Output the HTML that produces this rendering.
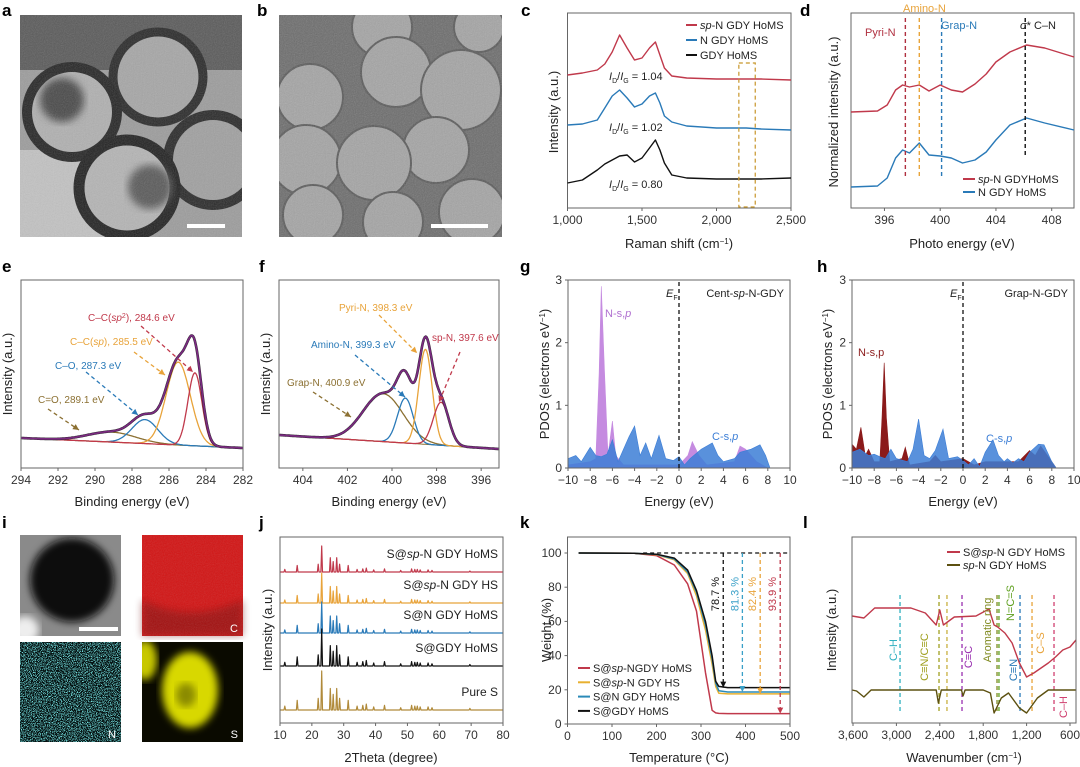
<!DOCTYPE html>
<html><head><meta charset="utf-8"><style>
html,body{margin:0;padding:0;background:#fff;}
svg{display:block;font-family:"Liberation Sans",sans-serif;}
</style></head><body>
<svg id="fig" width="1080" height="767" viewBox="0 0 1080 767" xmlns="http://www.w3.org/2000/svg">
<defs>
<filter id="noise" x="0" y="0" width="100%" height="100%"><feTurbulence type="fractalNoise" baseFrequency="0.9" numOctaves="2" seed="3"/><feColorMatrix type="saturate" values="0"/><feComponentTransfer><feFuncA type="linear" slope="0.5"/></feComponentTransfer></filter>
<filter id="dots" x="0" y="0" width="100%" height="100%"><feTurbulence type="fractalNoise" baseFrequency="1.2" numOctaves="1" seed="7"/><feColorMatrix type="matrix" values="0 0 0 0 0.2  0 0 0 0 0.85  0 0 0 0 0.85  0 0 0 9 -4.6"/></filter>
<filter id="blur4"><feGaussianBlur stdDeviation="4"/></filter>
<clipPath id="clipA"><rect x="20" y="15" width="222" height="222"/></clipPath>
<clipPath id="clipB"><rect x="279" y="15" width="223" height="222"/></clipPath>
<clipPath id="clipS"><rect x="142" y="642" width="101" height="100"/></clipPath>
<clipPath id="clipI1"><rect x="20" y="535" width="101" height="101"/></clipPath>
</defs>

<g clip-path="url(#clipA)">
<rect x="20" y="15" width="222" height="222" fill="#9c9c9c"/>
<rect x="20" y="150" width="90" height="90" fill="#c2c2c2"/>
<rect x="20" y="15" width="222" height="55" fill="#5a5a5a"/>
<circle cx="158" cy="77" r="45" fill="#a6a6a6" stroke="#2a2a2a" stroke-width="9"/>
<circle cx="72" cy="112" r="45" fill="#b0b0b0" stroke="#262626" stroke-width="10"/>
<circle cx="213" cy="160" r="45" fill="#a0a0a0" stroke="#2a2a2a" stroke-width="10"/>
<circle cx="127" cy="188" r="48" fill="#b4b4b4" stroke="#222" stroke-width="11"/>
<circle cx="150" cy="187" r="22" fill="#5a5a5a" filter="url(#blur4)"/>
<circle cx="62" cy="100" r="22" fill="#4a4a4a" filter="url(#blur4)"/>
<rect x="20" y="15" width="222" height="222" filter="url(#noise)" opacity="0.5"/>
</g>
<rect x="187" y="224" width="38" height="4" fill="#fff"/>

<g clip-path="url(#clipB)">
<rect x="279" y="15" width="223" height="222" fill="#6c6c6c"/>
<g fill="#a4a4a4" stroke="#5a5a5a" stroke-width="2">
<circle cx="382" cy="27" r="30"/><circle cx="479" cy="27" r="25"/><circle cx="310" cy="97" r="33"/>
<circle cx="396" cy="72" r="35"/><circle cx="461" cy="90" r="40"/><circle cx="306" cy="160" r="35"/>
<circle cx="436" cy="150" r="33"/><circle cx="374" cy="163" r="37"/><circle cx="313" cy="215" r="30"/>
<circle cx="393" cy="222" r="30"/><circle cx="472" cy="212" r="33"/>
</g>
<rect x="279" y="15" width="223" height="222" filter="url(#noise)" opacity="0.6"/>
</g>
<rect x="431" y="224" width="57" height="4" fill="#fff"/>

<g clip-path="url(#clipI1)">
<rect x="20" y="535" width="101" height="101" fill="#8a8a8a"/>
<circle cx="72" cy="580" r="42" fill="#0c0c0c" filter="url(#blur4)"/>
<circle cx="25" cy="630" r="14" fill="#eee" filter="url(#blur4)"/>
</g>
<rect x="79" y="627" width="39" height="4" fill="#fff"/>
<g>
<rect x="142" y="535" width="101" height="101" fill="#d21414"/>
<path d="M142 600 Q190 625 243 600 L243 636 L142 636Z" fill="#6a0808" opacity="0.45" filter="url(#blur4)"/>
<rect x="142" y="535" width="101" height="101" filter="url(#noise)" opacity="0.35"/>
<text x="238" y="632" fill="#fff" font-size="11" text-anchor="end">C</text>
</g>
<g>
<rect x="20" y="642" width="101" height="100" fill="#041010"/>
<rect x="20" y="642" width="101" height="100" filter="url(#dots)"/>
<text x="116" y="738" fill="#fff" font-size="11" text-anchor="end">N</text>
</g>
<g clip-path="url(#clipS)">
<rect x="142" y="642" width="101" height="100" fill="#0a0a00"/>
<ellipse cx="190" cy="690" rx="28" ry="38" fill="#d8d800" filter="url(#blur4)"/>
<ellipse cx="145" cy="660" rx="12" ry="20" fill="#c8c800" filter="url(#blur4)"/>
<ellipse cx="186" cy="695" rx="10" ry="12" fill="#8a8a00" filter="url(#blur4)"/>
<text x="238" y="738" fill="#fff" font-size="11" text-anchor="end">S</text>
</g>
</svg>
<script>
const ramanShift = [1000,1100,1200,1250,1300,1350,1400,1450,1500,1550,1590,1620,1650,1700,1800,2000,2200,2300,2500];
const ramanSpN = [133,135,138,144,156,173,160,148,150,160,166,153,140,132,130,129,129,129,128];
const ramanN = [83,84,88,100,112,118,110,101,104,112,115,105,92,86,82,80,80,79,78];
const ramanGDY = [25,28,38,44,48,52,53,46,50,60,68,58,45,33,30,29,29,29,30];
const ramanRatios = ["1.04","1.02","0.80"];
const nexEnergy = [393.6,395.5,396.2,396.8,397.3,397.8,398.5,399.2,400,400.8,401.6,402.5,403.3,404,405,406.2,407.5,409.6];
const nexSpN = [96,97,103,118,123,121,123,117,123,118,116,124,134,146,156,163,160,151];
const nexN = [21,22,30,50,58,55,65,53,52,50,45,48,56,68,83,90,85,78];
const nexMarkers = [397.5,398.5,400.1,406.1];
const c1sCenters = [289.1,287.3,285.5,284.6];
const c1sHeights = [10,24,83,73];
const c1sWidths = [1.3,0.7,0.65,0.38];
const c1sBase = [30,20];
const n1sCenters = [400.4,399.4,398.5,397.8];
const n1sHeights = [48,45,95,43];
const n1sWidths = [0.9,0.35,0.3,0.35];
const n1sBase = [33,19];
const gNE = [-10,-8,-7.5,-7.2,-7,-6.7,-6.4,-6,-5.7,-5,0,0.8,1.2,1.8,2.5,5,5.5,6,6.5,7,8,10];
const gNV = [0.05,0.1,0.15,1.5,2.9,1.5,0.2,0.75,0.2,0.05,0.05,0.2,0.42,0.2,0.05,0.1,0.35,0.3,0.2,0.1,0,0];
const gCE = [-10,-9.3,-8.8,-8,-7.5,-7,-6.5,-6,-5.5,-5,-4.5,-4,-3.5,-3,-2.5,-1.8,-1.2,-0.5,0,0.5,1,2,3,3.5,4,5,5.5,6.5,7.3,7.8,8.2,10];
const gCV = [0.15,0.2,0.1,0.33,0.2,0.18,0.22,0.45,0.1,0.3,0.5,0.67,0.2,0.4,0.15,0.52,0.15,0.12,0.18,0.05,0.15,0.3,0.4,0.2,0.1,0.15,0.25,0.3,0.37,0.2,0,0];
const hNE = [-10,-9.6,-9.2,-8.8,-8.5,-8,-7.5,-7.3,-7.1,-6.9,-6.6,-5.5,-5.2,-4.8,-3,-2.5,-2,0,1,2,5,6,6.5,7,8,8.4,10];
const hNV = [0.38,0.3,0.65,0.2,0.3,0.1,0.1,0.8,1.68,0.8,0.1,0.15,0.33,0.05,0.1,0.2,0.1,0.15,0.05,0.1,0.1,0.28,0.2,0.35,0.1,0,0];
const hCE = [-10,-9.3,-8.5,-8,-7.5,-7,-6.5,-6,-5,-4.5,-4,-3.5,-3,-2.5,-1.8,-1.3,-0.5,0,0.5,1,1.5,2,2.7,3.2,3.7,4,4.5,5,5.5,6,6.8,7.3,8,8.4,10];
const hCV = [0.25,0.3,0.2,0.22,0.18,0.15,0.3,0.15,0.1,0.3,0.78,0.2,0.15,0.28,0.62,0.15,0.18,0.12,0.05,0.15,0.02,0.25,0.45,0.2,0.1,0.15,0.08,0.15,0.1,0.25,0.38,0.37,0.1,0,0];
const xrdPeaks = [11.5,15.4,22,23.1,25.8,26.7,27.8,28.7,31.4,34.2,36,37.1,39.4,42.8,47.9,51.3,52.3,53.1,54,56.5,57.7,69.6];
const xrdRel = [0.1,0.25,0.3,1,0.55,0.4,0.55,0.3,0.25,0.1,0.12,0.15,0.08,0.12,0.06,0.12,0.1,0.1,0.08,0.08,0.06,0.04];
const xrdNames = ["S@sp-N GDY HoMS","S@sp-N GDY HS","S@N GDY HoMS","S@GDY HoMS","Pure S"];
const xrdOffsets = [151,120,90,57,13];
const xrdScales = [26,30,31,37,39];
const tgaT = [25,150,200,240,270,290,310,325,333,340,360,500];
const tgaRed = [100,99.8,98.5,93,82,66,30,8,6.5,6.2,6.1,6.1];
const tgaOrange = [100,99.8,99,96,88,75,55,35,22,18,17.6,17.6];
const tgaBlue = [100,99.8,99.2,96.5,89,77,58,38,24,19.5,18.7,18.7];
const tgaBlack = [100,99.8,99.3,97,90,78,60,40,25,22,21.3,21.3];
const tgaArrowT = [350,393,433,478];
const tgaLabels = ["78.7 %","81.3 %","82.4 %","93.9 %"];
const irRedX = [3614,3450,3300,2800,2600,2450,2400,2350,2200,1900,1720,1650,1600,1500,1400,1300,1200,1100,900,800,700,600,517];
const irRedY = [107,105,115,115,110,98,113,98,106,107,114,98,96,90,80,60,46,50,60,66,73,76,83];
const irOlX = [3614,3550,3450,3350,2450,2420,2380,2100,2080,2050,1800,1700,1650,1550,1450,1300,1200,1050,900,517];
const irOlY = [33,32,26,33,33,20,33,33,27,33,33,30,10,25,30,15,10,25,33,33];
const irBands = [2950,2411,2301,2093,1609,1582,1291,1125,821];
const irBandLabels = ["C–H","C≡N/C≡C","","C≡C","Aromatic ring","N=C=S","C≡N","C–S","C–H"];

const NS = "http://www.w3.org/2000/svg";
const svg = document.getElementById('fig');
function scale(d0,d1,r0,r1){ return v => r0 + (v-d0)*(r1-r0)/(d1-d0); }
function el(tag, attrs, name){
  const e = document.createElementNS(NS, tag);
  for (const k in attrs) e.setAttribute(k, attrs[k]);
  
  
  svg.appendChild(e);
  return e;
}
function txt(x,y,s,name,o){
  o = o || {};
  const t = el('text', {x:x, y:y, 'font-size':o.size||11, fill:o.color||'#222', 'text-anchor':o.anchor||'start', 'font-weight':o.weight||'normal'}, name);
  if (o.rot) t.setAttribute('transform', 'rotate('+o.rot+' '+x+' '+y+')');
  t.innerHTML = s;
  return t;
}
function frame(x0,x1,y0,y1,name){ el('rect',{x:x0,y:y0,width:x1-x0,height:y1-y0,fill:'none',stroke:'#666','stroke-width':1}, name); }
function xticks(sx, vals, labels, yb, name){
  vals.forEach((v,i)=>{
    el('line',{x1:sx(v),x2:sx(v),y1:yb,y2:yb+3,stroke:'#666'}, name+'-tick');
    txt(sx(v), yb+16, labels[i], name+'-label', {size:12, anchor:'middle', color:'#333'});
  });
}
function yticks(sy, vals, labels, xl, name){
  vals.forEach((v,i)=>{
    el('line',{x1:xl-3,x2:xl,y1:sy(v),y2:sy(v),stroke:'#666'}, name+'-tick');
    txt(xl-6, sy(v)+4, labels[i], name+'-label', {size:12, anchor:'end', color:'#333'});
  });
}
function pathD(xs, ys, sx, sy){ return xs.map((x,i)=>(i?'L':'M')+sx(x).toFixed(1)+' '+sy(ys[i]).toFixed(1)).join(' '); }
function line(xs, ys, sx, sy, color, name, w){ return el('path',{d:pathD(xs,ys,sx,sy),fill:'none',stroke:color,'stroke-width':w||1.4,'stroke-linejoin':'round'}, name); }
function area(xs, ys, sx, sy, color, name, op){
  const d = pathD(xs,ys,sx,sy)+' L'+sx(xs[xs.length-1])+' '+sy(0)+' L'+sx(xs[0])+' '+sy(0)+' Z';
  return el('path',{d:d,fill:color,'fill-opacity':op||1,stroke:color,'stroke-width':0.6}, name);
}
function dash(x1,y1,x2,y2,color,name,w){ return el('line',{x1:x1,y1:y1,x2:x2,y2:y2,stroke:color,'stroke-width':w||1.3,'stroke-dasharray':'4 3'}, name); }
function arrowHead(x,y,ang,color,name){
  const a = ang*Math.PI/180, L=6, W=3;
  const bx = x - L*Math.cos(a), by = y - L*Math.sin(a);
  const px = -Math.sin(a)*W, py = Math.cos(a)*W;
  el('polygon',{points:x+','+y+' '+(bx+px)+','+(by+py)+' '+(bx-px)+','+(by-py), fill:color}, name);
}
function dashArrow(x1,y1,x2,y2,color,name){
  dash(x1,y1,x2,y2,color,name);
  arrowHead(x2,y2,Math.atan2(y2-y1,x2-x1)*180/Math.PI,color,name+'-head');
}
function letter(x,y,s){ txt(x,y,s,'panel-label-'+s,{size:17, weight:'bold', color:'#000'}); }
const RED='#c0394b', BLUE='#2a7ab8', BLK='#111', ORG='#e8a33a', BRN='#8b7032';

[['a',2,16],['b',257,16],['c',521,16],['d',800,16],['e',2,272],['f',259,272],['g',520,272],['h',817,272],['i',2,528],['j',259,528],['k',520,528],['l',803,528]].forEach(p=>letter(p[1],p[2],p[0]));

{
  const sx = scale(1000,2500,567.5,791), sy = scale(0,195,208,13);
  frame(567.5,791,13,208,'raman-frame');
  line(ramanShift, ramanSpN, sx, sy, RED, 'raman-spN-line');
  line(ramanShift, ramanN, sx, sy, BLUE, 'raman-N-line');
  line(ramanShift, ramanGDY, sx, sy, BLK, 'raman-GDY-line');
  el('rect',{x:sx(2150),y:63,width:sx(2260)-sx(2150),height:144,fill:'none',stroke:'#c8962a','stroke-dasharray':'4 3','stroke-width':1.2},'raman-highlight-box');
  xticks(sx,[1000,1500,2000,2500],['1,000','1,500','2,000','2,500'],208,'raman-x');
  txt(679,248,'Raman shift (cm<tspan baseline-shift="super" font-size="8">−1</tspan>)','raman-x-title',{size:13,anchor:'middle'});
  txt(558,112,'Intensity (a.u.)','raman-y-title',{size:13,anchor:'middle',rot:-90});
  const ly = [80,131,188];
  ramanRatios.forEach((r,i)=>txt(609,ly[i],'<tspan font-style="italic">I</tspan><tspan font-size="7" dy="3">D</tspan><tspan dy="-3">/</tspan><tspan font-style="italic">I</tspan><tspan font-size="7" dy="3">G</tspan><tspan dy="-3"> = '+r+'</tspan>','raman-ratio-label',{size:11}));
  const leg = [['<tspan font-style="italic">sp</tspan>-N GDY HoMS',RED],['N GDY HoMS',BLUE],['GDY HoMS',BLK]];
  leg.forEach((l,i)=>{ const y=25+i*15; el('line',{x1:686,x2:697,y1:y,y2:y,stroke:l[1],'stroke-width':2},'raman-legend-swatch'); txt(700,y+4,l[0],'raman-legend-entry',{size:11}); });
}
{
  const sx = scale(393.6,409.6,851,1074), sy = scale(0,195,208,13);
  frame(851,1074,13,208,'nexafs-frame');
  line(nexEnergy, nexSpN, sx, sy, RED, 'nexafs-spN-line');
  line(nexEnergy, nexN, sx, sy, BLUE, 'nexafs-N-line');
  const mc = ['#b03040',ORG,BLUE,'#111'];
  nexMarkers.forEach((m,i)=>dash(sx(m),18,sx(m),i==3?158:178,mc[i],'nexafs-marker',1.4));
  txt(865,36,'Pyri-N','label-pyri-n',{size:11,color:'#b03040'});
  txt(903,12,'Amino-N','label-amino-n',{size:11,color:ORG});
  txt(941,29,'Grap-N','label-grap-n',{size:11,color:BLUE});
  txt(1020,29,'<tspan font-style="italic">σ</tspan>* C–N','label-sigma-cn',{size:11});
  xticks(sx,[396,400,404,408],['396','400','404','408'],208,'nexafs-x');
  txt(962,248,'Photo energy (eV)','nexafs-x-title',{size:13,anchor:'middle'});
  txt(838,112,'Normalized intensity (a.u.)','nexafs-y-title',{size:13,anchor:'middle',rot:-90});
  [['<tspan font-style="italic">sp</tspan>-N GDYHoMS',RED],['N GDY HoMS',BLUE]].forEach((l,i)=>{ const y=179+i*13; el('line',{x1:963,x2:975,y1:y,y2:y,stroke:l[1],'stroke-width':2},'nexafs-legend-swatch'); txt(978,y+4,l[0],'nexafs-legend-entry',{size:11}); });
}
function fitPanel(centers, heights, widths, base, d0, d1, x0, x1, colors, prefix){
  const sx = scale(d0,d1,x0,x1), sy = scale(0,188,468,280);
  const xs=[]; for(let i=0;i<=240;i++) xs.push(d0+(d1-d0)*i/240);
  const bl = x => base[0] + (base[1]-base[0])*(x-d0)/(d1-d0);
  const comp = k => xs.map(x => bl(x) + heights[k]*Math.exp(-Math.pow(x-centers[k],2)/(2*widths[k]*widths[k])));
  const env = xs.map(x => bl(x) + centers.reduce((s,c,k)=>s+heights[k]*Math.exp(-Math.pow(x-c,2)/(2*widths[k]*widths[k])),0));
  line(xs, xs.map(bl), sx, sy, BRN, prefix+'-baseline', 1);
  centers.forEach((c,k)=>line(xs, comp(k), sx, sy, colors[k], prefix+'-component', 1.3));
  line(xs, env, sx, sy, '#222', prefix+'-raw', 2.6);
  line(xs, env, sx, sy, '#7a2a80', prefix+'-envelope', 1.8);
  frame(x0,x1,280,468,prefix+'-frame');
  return sx;
}
{
  const sx = fitPanel(c1sCenters,c1sHeights,c1sWidths,c1sBase,294,282,21,243,[BRN,BLUE,ORG,RED],'c1s');
  xticks(sx,[294,292,290,288,286,284,282],['294','292','290','288','286','284','282'],468,'c1s-x');
  txt(132,506,'Binding energy (eV)','c1s-x-title',{size:13,anchor:'middle'});
  txt(12,374,'Intensity (a.u.)','c1s-y-title',{size:13,anchor:'middle',rot:-90});
  txt(88,321,'C–C(<tspan font-style="italic">sp</tspan><tspan baseline-shift="super" font-size="7">2</tspan>), 284.6 eV','label-c-c-sp2',{size:10,color:RED});
  dashArrow(141,326,193,372,RED,'arrow-c-c-sp2');
  txt(70,345,'C–C(<tspan font-style="italic">sp</tspan>), 285.5 eV','label-c-c-sp',{size:10,color:ORG});
  dashArrow(134,352,165,375,ORG,'arrow-c-c-sp');
  txt(55,369,'C–O, 287.3 eV','label-c-o',{size:10,color:BLUE});
  dashArrow(86,372,138,415,BLUE,'arrow-c-o');
  txt(38,403,'C=O, 289.1 eV','label-c-double-o',{size:10,color:BRN});
  dashArrow(48,409,79,430,BRN,'arrow-c-double-o');
}
{
  const sx = fitPanel(n1sCenters,n1sHeights,n1sWidths,n1sBase,405.07,395.2,279,499,[BRN,BLUE,ORG,RED],'n1s');
  xticks(sx,[404,402,400,398,396],['404','402','400','398','396'],468,'n1s-x');
  txt(389,506,'Binding energy (eV)','n1s-x-title',{size:13,anchor:'middle'});
  txt(270,374,'Intensity (a.u.)','n1s-y-title',{size:13,anchor:'middle',rot:-90});
  txt(339,311,'Pyri-N, 398.3 eV','label-pyri-n-f',{size:10,color:ORG});
  dashArrow(379,315,417,353,ORG,'arrow-pyri-n');
  txt(432,341,'sp-N, 397.6 eV','label-sp-n-f',{size:10,color:RED});
  dashArrow(460,352,439,402,RED,'arrow-sp-n');
  txt(311,348,'Amino-N, 399.3 eV','label-amino-n-f',{size:10,color:BLUE});
  dashArrow(355,355,405,397,BLUE,'arrow-amino-n');
  txt(287,386,'Grap-N, 400.9 eV','label-grap-n-f',{size:10,color:BRN});
  dashArrow(313,392,351,417,BRN,'arrow-grap-n');
}
function pdosPanel(x0,x1,nE,nV,nCol,cE,cV,title,prefix,nLab,nLx,nLy,cLx,cLy){
  const sx = scale(-10,10,x0,x1), sy = scale(0,3,468,280);
  area(nE,nV,sx,sy,nCol,prefix+'-n-area',1);
  area(cE,cV,sx,sy,'#3c7ed6',prefix+'-c-area',0.85);
  frame(x0,x1,280,468,prefix+'-frame');
  dash(sx(0),282,sx(0),468,'#111',prefix+'-fermi-line',1.3);
  txt(sx(0)-13,297,'<tspan font-style="italic">E</tspan><tspan font-size="7" dy="3">F</tspan>',prefix+'-fermi-label',{size:11});
  txt(x1-6,297,title,prefix+'-title',{size:11,anchor:'end'});
  txt(nLx,nLy,nLab,prefix+'-n-label',{size:11,color:nCol==='#c58be0'?'#b070d0':'#8b1a1a'});
  txt(cLx,cLy,'C-s,<tspan font-style="italic">p</tspan>',prefix+'-c-label',{size:11,color:'#3c7ed6'});
  xticks(sx,[-10,-8,-6,-4,-2,0,2,4,6,8,10],['−10','−8','−6','−4','−2','0','2','4','6','8','10'],468,prefix+'-x');
  yticks(sy,[0,1,2,3],['0','1','2','3'],x0,prefix+'-y');
  txt((x0+x1)/2,506,'Energy (eV)',prefix+'-x-title',{size:13,anchor:'middle'});
}
pdosPanel(568,790,gNE,gNV,'#c58be0',gCE,gCV,'Cent-<tspan font-style="italic">sp</tspan>-N-GDY','pdos-g','N-s,<tspan font-style="italic">p</tspan>',605,317,712,440);
pdosPanel(852,1074,hNE,hNV,'#8b1a1a',hCE,hCV,'Grap-N-GDY','pdos-h','N-s,p',858,356,986,442);
txt(549,374,'PDOS (electrons eV<tspan baseline-shift="super" font-size="8">−1</tspan>)','pdos-g-y-title',{size:13,anchor:'middle',rot:-90});
txt(832,374,'PDOS (electrons eV<tspan baseline-shift="super" font-size="8">−1</tspan>)','pdos-h-y-title',{size:13,anchor:'middle',rot:-90});
{
  const sx = scale(10,80,280,503), sy = scale(0,186,723,537);
  const cols = [RED,ORG,BLUE,BLK,'#b08a3a'];
  xrdNames.forEach((n,t)=>{
    const xs=[10], ys=[xrdOffsets[t]];
    xrdPeaks.forEach((p,k)=>{ xs.push(p-0.25,p,p+0.25); ys.push(xrdOffsets[t], xrdOffsets[t]+xrdScales[t]*xrdRel[k], xrdOffsets[t]); });
    xs.push(80); ys.push(xrdOffsets[t]);
    line(xs,ys,sx,sy,cols[t],'xrd-trace',1.2);
    txt(498,sy(xrdOffsets[t])-14,n.replace('sp-N','<tspan font-style="italic">sp</tspan>-N'),'xrd-label',{size:12,anchor:'end'});
  });
  frame(280,503,537,723,'xrd-frame');
  xticks(sx,[10,20,30,40,50,60,70,80],['10','20','30','40','50','60','70','80'],723,'xrd-x');
  txt(391,762,'2Theta (degree)','xrd-x-title',{size:13,anchor:'middle'});
  txt(272,630,'Intensity (a.u.)','xrd-y-title',{size:13,anchor:'middle',rot:-90});
}
{
  const sx = scale(0,500,567.5,790), sy = scale(0,100,724,553);
  dash(sx(170),sy(100),sx(500),sy(100),'#111','tga-100-line',1.2);
  line(tgaT,tgaRed,sx,sy,RED,'tga-red-line',1.5);
  line(tgaT,tgaOrange,sx,sy,'#e8b030','tga-orange-line',1.5);
  line(tgaT,tgaBlue,sx,sy,'#2a8ab8','tga-blue-line',1.5);
  line(tgaT,tgaBlack,sx,sy,'#111','tga-black-line',1.5);
  const finals = [tgaBlack[11],tgaBlue[11],tgaOrange[11],tgaRed[11]];
  const ac = ['#111','#3aa0c8','#e8a33a',RED];
  tgaArrowT.forEach((t,i)=>{ dashArrow(sx(t),sy(100),sx(t),sy(finals[i]),ac[i],'tga-arrow'); txt(sx(t)-4,sy(76),tgaLabels[i],'tga-percent-label',{size:11,anchor:'middle',color:ac[i],rot:-90}); });
  frame(567.5,790,537,724,'tga-frame');
  xticks(sx,[0,100,200,300,400,500],['0','100','200','300','400','500'],724,'tga-x');
  yticks(sy,[0,20,40,60,80,100],['0','20','40','60','80','100'],567.5,'tga-y');
  txt(679,762,'Temperature (°C)','tga-x-title',{size:13,anchor:'middle'});
  txt(551,630,'Weight (%)','tga-y-title',{size:13,anchor:'middle',rot:-90});
  [['S@<tspan font-style="italic">sp</tspan>-NGDY HoMS',RED],['S@<tspan font-style="italic">sp</tspan>-N GDY HS','#e8b030'],['S@N GDY HoMS','#2a8ab8'],['S@GDY HoMS','#111']].forEach((l,i)=>{ const y=668+i*14.3; el('line',{x1:578,x2:590,y1:y,y2:y,stroke:l[1],'stroke-width':2},'tga-legend-swatch'); txt(593,y+4,l[0],'tga-legend-entry',{size:11}); });
}
{
  const sx = scale(3614,517,852,1076), sy = scale(0,186,723,537);
  const bc = ['#30b0c0','#a0a020','#c8b040','#9a30b0','#808a20','#60a020',BLUE,'#e8a33a','#d04070'];
  irBands.forEach((b,i)=>dash(sx(b),595,sx(b),713,bc[i],'ftir-band-line',1.3));
  line(irRedX,irRedY,sx,sy,RED,'ftir-red-line',1.4);
  line(irOlX,irOlY,sx,sy,'#5c5010','ftir-olive-line',1.4);
  const lp = [[-7,650],[-15,657],null,[6,657],[-10,630],[11,603],[-7,670],[8,643],[9,707]];
  irBandLabels.forEach((s,i)=>{ if(lp[i]) txt(sx(irBands[i])+lp[i][0]+4,lp[i][1],s,'ftir-band-label',{size:11,anchor:'middle',color:bc[i],rot:-90}); });
  frame(852,1076,537,723,'ftir-frame');
  xticks(sx,[3600,3000,2400,1800,1200,600],['3,600','3,000','2,400','1,800','1,200','600'],723,'ftir-x');
  txt(964,762,'Wavenumber (cm<tspan baseline-shift="super" font-size="8">−1</tspan>)','ftir-x-title',{size:13,anchor:'middle'});
  txt(836,630,'Intensity (a.u.)','ftir-y-title',{size:13,anchor:'middle',rot:-90});
  [['S@<tspan font-style="italic">sp</tspan>-N GDY HoMS',RED],['<tspan font-style="italic">sp</tspan>-N GDY HoMS','#5c5010']].forEach((l,i)=>{ const y=552+i*13; el('line',{x1:947,x2:960,y1:y,y2:y,stroke:l[1],'stroke-width':2},'ftir-legend-swatch'); txt(963,y+4,l[0],'ftir-legend-entry',{size:11}); });
}
</script>
</body></html>
